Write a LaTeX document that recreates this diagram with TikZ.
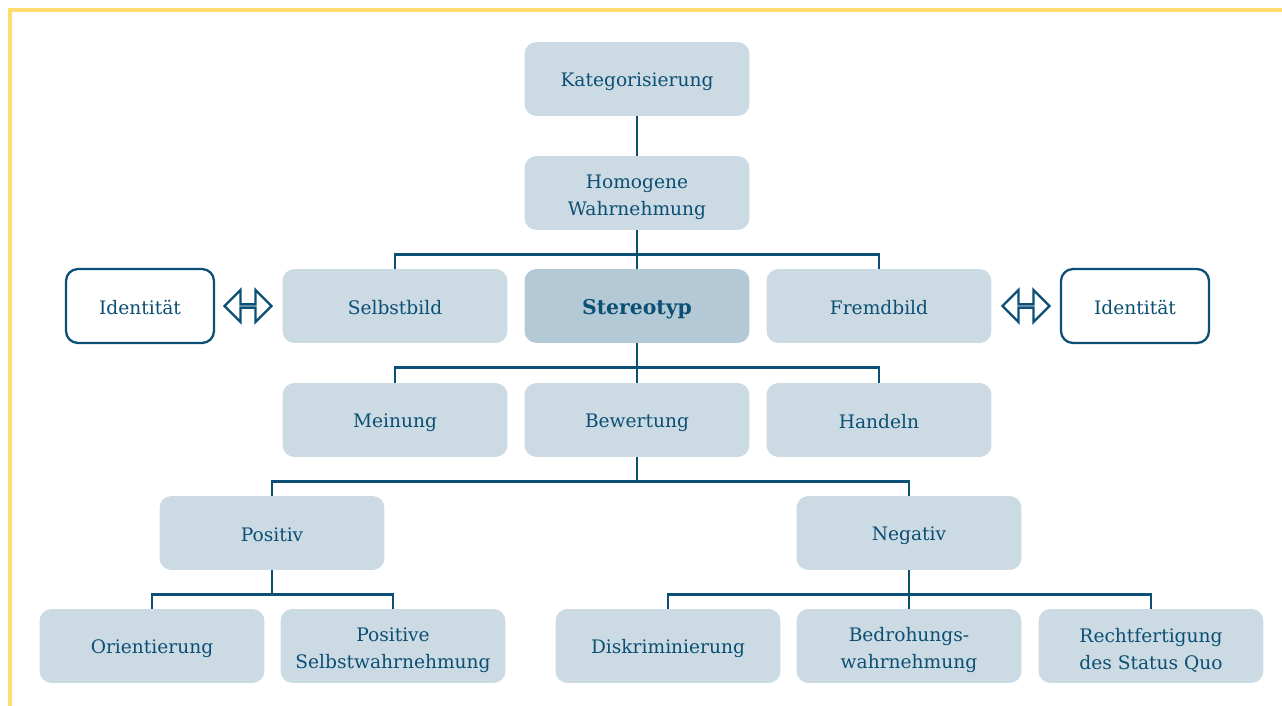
\documentclass[tikz,border=0pt]{standalone}
\usepackage{fontspec}
\setmainfont{DejaVu Serif}
\usetikzlibrary{shapes.arrows}

\definecolor{boxblue}{HTML}{CCDAE3}
\definecolor{stereoblue}{HTML}{B3CAD6}
\definecolor{inkblue}{HTML}{0B4F74}
\definecolor{frameyellow}{HTML}{FFDC6E}

\newcommand{\boxstrut}{\rule[-0.14em]{0pt}{1.2em}}
\newcommand{\topstrut}{\rule{0pt}{1.2em}}

\begin{document}
\begin{tikzpicture}
    [%%%%%%%%%%%%%%%%%%%%%%%%%%%%%%
        x=0.02cm, y=-0.02cm,
        box/.style={rectangle, rounded corners=0.24cm, fill=boxblue, text=inkblue,
            minimum width=4.5cm, minimum height=1.48cm, align=center,
            font=\fontsize{10.6}{15.3}\selectfont,
            execute at begin node=\boxstrut, execute at end node=\boxstrut},
        idbox/.style={box, fill=white, draw=inkblue, line width=1.3pt, minimum width=2.96cm},
        conn/.style={draw=inkblue, line width=1.6pt},
        swap/.style={double arrow, draw=inkblue, fill=white, line width=1.3pt,
            minimum width=0.64cm, minimum height=0.94cm, double arrow head extend=0.2cm,
            inner sep=0pt},
    ]%%%%%%%%%%%%%%%%%%%%%%%%%%%%%%

\useasboundingbox (0,0) rectangle (1282,706);
\draw[frameyellow, line width=2.2pt] (10,706) -- (10,10) -- (1282,10);

% top chain
\node[box] (kat) at (637,79) {Kategorisierung};
\node[box] (homog) at (637,193) {\topstrut Homogene\\Wahrnehmung};

% middle row
\node[box] (selbst) at (395,306) {Selbstbild};
\node[box, fill=stereoblue, font=\fontsize{11.6}{15.3}\selectfont\bfseries] (stereo) at (637,306) {Stereotyp};
\node[box] (fremd) at (879,306) {Fremdbild};
\node[idbox] (idleft) at (140,306) {Identität};
\node[idbox] (idright) at (1135,306) {Identität};
\node[swap] (swapleft) at (248,306) {};
\node[swap] (swapright) at (1026,306) {};

% components
\node[box] (meinung) at (395,420) {Meinung};
\node[box] (bewert) at (637,420) {Bewertung};
\node[box] (handeln) at (879,420) {Handeln};

% valence
\node[box] (pos) at (272,533) {Positiv};
\node[box] (neg) at (909,533) {Negativ};

\node[box] (orient) at (152,646) {Orientierung};
\node[box] (possw) at (393,646) {\topstrut Positive\\Selbstwahrnehmung};
\node[box] (diskr) at (668,646) {Diskriminierung};
\node[box] (bedroh) at (909,646) {\topstrut Bedrohungs-\\wahrnehmung};
\node[box] (recht) at (1151,646) {\topstrut Rechtfertigung\\des Status Quo};

% connectors
\draw[conn] (kat) -- (homog);
\draw[conn] (homog) -- (stereo);
\draw[conn] (selbst.north) |- ([yshift=-0.48cm]homog.south) -| (fremd.north);
\draw[conn] (stereo) -- (bewert);
\draw[conn] (meinung.north) |- ([yshift=-0.48cm]stereo.south) -| (handeln.north);
\draw[conn] (bewert.south) -- ([yshift=-0.48cm]bewert.south);
\draw[conn] (pos.north) |- ([yshift=-0.48cm]bewert.south) -| (neg.north);
\draw[conn] (pos.south) -- ([yshift=-0.48cm]pos.south);
\draw[conn] (orient.north) |- ([yshift=-0.48cm]pos.south) -| (possw.north);
\draw[conn] (neg) -- (bedroh);
\draw[conn] (diskr.north) |- ([yshift=-0.48cm]neg.south) -| (recht.north);
\end{tikzpicture}
\end{document}
